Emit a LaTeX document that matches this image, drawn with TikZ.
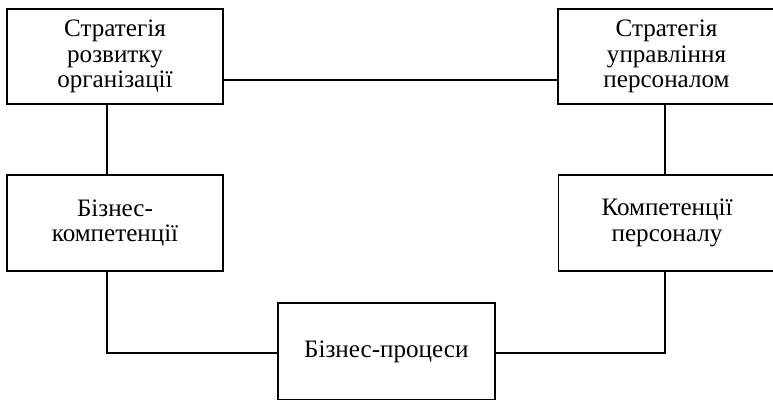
\documentclass[tikz,border=0pt]{standalone}
\usepackage{fontspec}
\setmainfont{Liberation Serif}
\begin{document}
\begin{tikzpicture}[x=1pt,y=-1pt,
  bx/.style={draw=black,line width=1.9pt,fill=white,inner sep=0pt,align=center,font=\fontsize{25.1}{25.7}\selectfont},
  ln/.style={draw=black,line width=2pt}]
\useasboundingbox (0,0) rectangle (773,399);
\coordinate (vl) at (107,0);
\coordinate (vr) at (665,0);
\coordinate (ht) at (0,80);
\coordinate (hb) at (0,352.5);
\node[bx,minimum width=216pt,minimum height=95.5pt] (a) at (115,56.5) {Стратегія\\розвитку\\організації};
\node[bx,minimum width=217pt,minimum height=95.5pt] (b) at (666.5,56.5) {Стратегія\\управління\\персоналом};
\node[bx,minimum width=216pt,minimum height=96.5pt] (c) at (115,223) {Бізнес-\\компетенції};
\node[bx,minimum width=217pt,minimum height=96.5pt] (d) at (667,223) {Компетенції\\персоналу};
\node[bx,minimum width=217pt,minimum height=97pt] (e) at (386.3,351.5) {Бізнес-процеси};
\draw[ln] (a.east|-ht) -- (b.west|-ht);
\draw[ln] (a.south-|vl) -- (c.north-|vl);
\draw[ln] (b.south-|vr) -- (d.north-|vr);
\draw[ln] (c.south-|vl) |- (e.west|-hb);
\draw[ln] (d.south-|vr) |- (e.east|-hb);
\end{tikzpicture}
\end{document}
